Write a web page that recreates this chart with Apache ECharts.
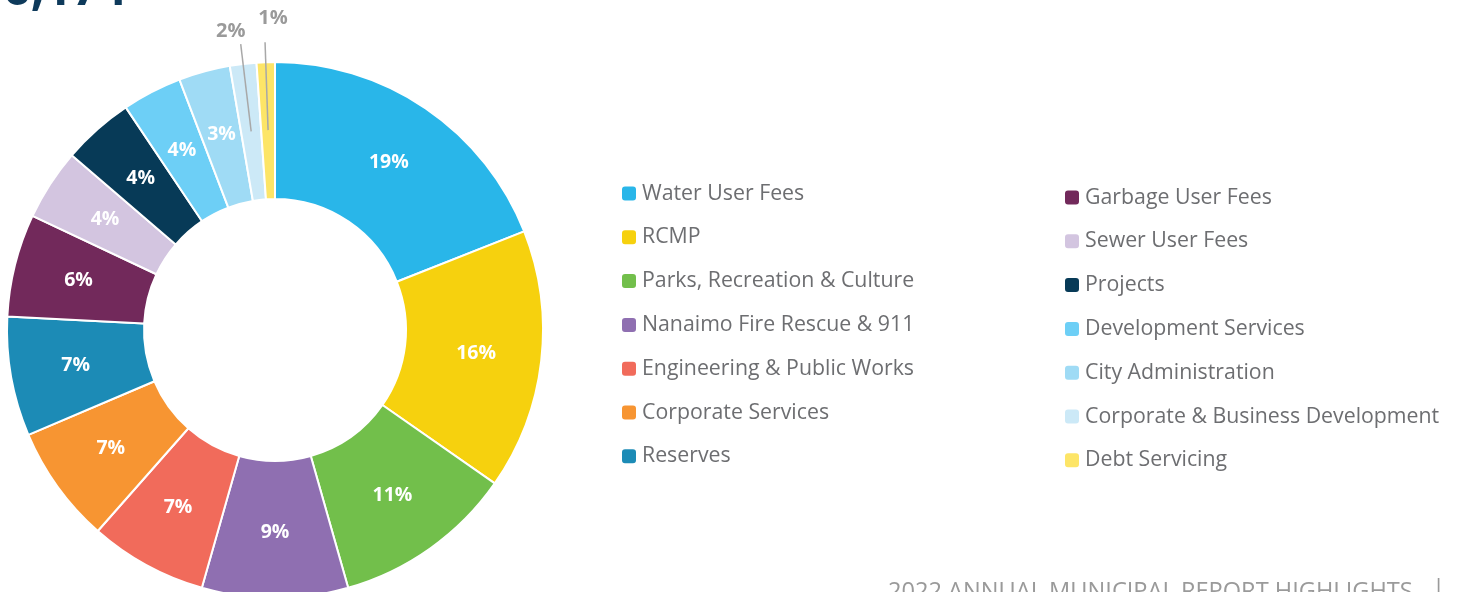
<!DOCTYPE html>
<html>
<head>
<meta charset="utf-8">
<script src="https://cdn.jsdelivr.net/npm/echarts@6/dist/echarts.min.js"></script>
<style>
  html, body { margin: 0; padding: 0; background: #ffffff; }
  #chart { width: 1458px; height: 592px; }
</style>
</head>
<body>
<div id="chart"></div>
<script>
// Revenue sources, share of total (percent)
const categories = [
  'Water User Fees',
  'RCMP',
  'Parks, Recreation & Culture',
  'Nanaimo Fire Rescue & 911',
  'Engineering & Public Works',
  'Corporate Services',
  'Reserves',
  'Garbage User Fees',
  'Sewer User Fees',
  'Projects',
  'Development Services',
  'City Administration',
  'Corporate & Business Development',
  'Debt Servicing'
];
const shares = [19.0, 15.7, 10.9, 8.8, 7.1, 7.1, 7.2, 6.2, 4.3, 4.3, 3.6, 3.1, 1.6, 1.1];
const colors = [
  '#29b6e9', '#f6d10e', '#72bf4b', '#8f6fb1', '#f16b5b', '#f79532', '#1c8bb6',
  '#72295b', '#d3c5e0', '#073a57', '#6dcff6', '#9fdbf5', '#cce9f7', '#fde567'
];
// Slices too thin for an inside label get an outside label with a leader line
const outsideLabelled = ['Corporate & Business Development', 'Debt Servicing'];
// text padding [top, right, bottom, left] nudging each outside label off its line end
const outsidePadding = {
  'Corporate & Business Development': [0, 20, 3, 0],
  'Debt Servicing': [0, 0, 14, 16]
};

const FONT = '"Open Sans", "Noto Sans", sans-serif';
const pct = p => Math.round(p.percent) + '%';

const pieData = categories.map((name, i) => ({
  name,
  value: shares[i],
  itemStyle: { color: colors[i] }
}));

const legendText = { fontFamily: FONT, fontSize: 21.3, lineHeight: 20, color: '#6d6e71' };

const chart = echarts.init(document.getElementById('chart'), null, { renderer: 'canvas' });

chart.setOption({
  backgroundColor: '#ffffff',
  animation: false,
  title: [
    {
      text: '$146,174',
      left: -79,
      top: -33,
      padding: 0,
      textStyle: { fontFamily: FONT, fontSize: 48, fontWeight: 'bold', color: '#0e3a5b' }
    },
    {
      text: '2022 ANNUAL MUNICIPAL REPORT HIGHLIGHTS',
      left: 888,
      top: 580,
      padding: 0,
      textStyle: { fontFamily: FONT, fontSize: 23.6, fontWeight: 'normal', color: '#9a9a9a' }
    },
    {
      text: '|',
      left: 1432,
      top: 577,
      padding: 0,
      textStyle: { fontFamily: FONT, fontSize: 24, fontWeight: 'normal', color: '#9a9a9a' }
    }
  ],
  legend: [
    {
      data: categories.slice(0, 7),
      orient: 'vertical',
      left: 620,
      top: 183,
      padding: 0,
      icon: 'roundRect',
      itemWidth: 16,
      itemHeight: 16,
      itemGap: 22.8,
      selectedMode: false,
      textStyle: legendText
    },
    {
      data: categories.slice(7),
      orient: 'vertical',
      left: 1063,
      top: 187,
      padding: 0,
      icon: 'roundRect',
      itemWidth: 16,
      itemHeight: 16,
      itemGap: 22.8,
      selectedMode: false,
      textStyle: legendText
    }
  ],
  series: [
    {
      type: 'pie',
      center: [275, 330],
      radius: [131, 268],
      startAngle: 90,
      clockwise: true,
      avoidLabelOverlap: false,
      itemStyle: { borderColor: '#ffffff', borderWidth: 2 },
      label: {
        show: true,
        position: 'inside',
        formatter: p => outsideLabelled.includes(p.name) ? '' : pct(p),
        color: '#ffffff',
        fontFamily: FONT,
        fontSize: 19.5,
        fontWeight: 'bold'
      },
      labelLine: { show: false },
      emphasis: { disabled: true },
      data: pieData
    },
    {
      // transparent copy whose outer edge sits mid-ring, so leader lines start inside the slice
      type: 'pie',
      center: [275, 330],
      radius: [0, 200],
      startAngle: 90,
      clockwise: true,
      silent: true,
      z: 5,
      avoidLabelOverlap: false,
      itemStyle: { color: 'rgba(0,0,0,0)', borderWidth: 0 },
      label: { show: false },
      labelLine: { show: false },
      labelLayout: {
        align: 'center',
        verticalAlign: 'bottom',
        hideOverlap: false
      },
      emphasis: { disabled: true },
      data: categories.map((name, i) => {
        const on = outsideLabelled.includes(name);
        return {
          name,
          value: shares[i],
          label: {
            show: on,
            position: 'outside',
            formatter: pct,
            color: '#9a9a9a',
            fontFamily: FONT,
            fontSize: 20,
            fontWeight: 'bold',
            distanceToLabelLine: 0,
            padding: outsidePadding[name] || 0
          },
          labelLine: {
            show: on,
            length: 88,
            length2: 0,
            smooth: false,
            lineStyle: { color: '#a8a8a8', width: 1.5 }
          }
        };
      })
    }
  ]
});
</script>
</body>
</html>
